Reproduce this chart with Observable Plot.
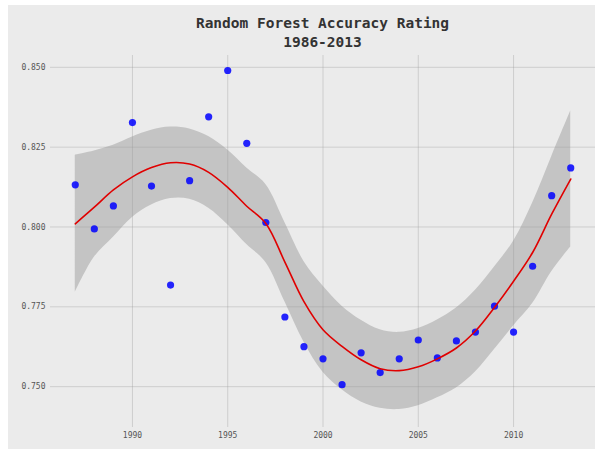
<!DOCTYPE html>
<html>
<head>
<meta charset="utf-8">
<script src="https://cdn.jsdelivr.net/npm/d3@7"></script>
<script src="https://cdn.jsdelivr.net/npm/@observablehq/plot@0.6"></script>
<style>
  body { margin: 0; background: #ffffff; }
  #wrap { position: relative; width: 600px; height: 450px; background: #ffffff; overflow: hidden; }
  #panel { position: absolute; left: 8px; top: 5px; width: 587px; height: 444px; background: #ebebeb; }
  #title { position: absolute; left: 50px; width: 545px; top: 14px; text-align: center;
           font-family: "DejaVu Sans Mono", monospace; font-weight: bold; font-size: 14.5px;
           line-height: 19px; color: #333333; }
  #chart { position: absolute; left: 0; top: 50px; }
</style>
</head>
<body>
<div id="wrap">
  <div id="panel"></div>
  <div id="title">Random Forest Accuracy Rating<br>1986-2013</div>
  <div id="chart"></div>
</div>
<script>
const years = [1987, 1988, 1989, 1990, 1991, 1992, 1993, 1994, 1995, 1996, 1997, 1998, 1999, 2000,
               2001, 2002, 2003, 2004, 2005, 2006, 2007, 2008, 2009, 2010, 2011, 2012, 2013];
const accuracy = [0.8132, 0.7994, 0.8066, 0.8327, 0.8128, 0.7818, 0.8145, 0.8345, 0.8490, 0.8262,
                  0.8014, 0.7718, 0.7625, 0.7587, 0.7506, 0.7606, 0.7544, 0.7587, 0.7646, 0.7590,
                  0.7643, 0.7671, 0.7752, 0.7671, 0.7877, 0.8098, 0.8185];
const fitLine = [0.8010, 0.8062, 0.8116, 0.8157, 0.8186, 0.8201, 0.8197, 0.8171, 0.8124, 0.8065,
                 0.8011, 0.7890, 0.7766, 0.7678, 0.7626, 0.7584, 0.7556, 0.7550, 0.7562, 0.7587,
                 0.7621, 0.7674, 0.7748, 0.7830, 0.7920, 0.8040, 0.8150];
const bandHigh = [0.8225, 0.8238, 0.8256, 0.8282, 0.8303, 0.8313, 0.8307, 0.8283, 0.8241, 0.8185,
                  0.8133, 0.8014, 0.7892, 0.7815, 0.7752, 0.7708, 0.7678, 0.7670, 0.7682, 0.7709,
                  0.7746, 0.7802, 0.7875, 0.7955, 0.8075, 0.8220, 0.8363];
const bandLow = [0.7795, 0.7905, 0.7968, 0.8030, 0.8069, 0.8089, 0.8087, 0.8059, 0.8007, 0.7945,
                 0.7889, 0.7766, 0.7640, 0.7545, 0.7490, 0.7452, 0.7432, 0.7428, 0.7440, 0.7465,
                 0.7496, 0.7546, 0.7616, 0.7690, 0.7760, 0.7860, 0.7937];
const xTicks = [1990, 1995, 2000, 2005, 2010];
const yTicks = [0.750, 0.775, 0.800, 0.825, 0.850];

const rows = years.map((year, i) => ({
  year, acc: accuracy[i], fit: fitLine[i], lo: bandLow[i], hi: bandHigh[i]
}));

const chart = Plot.plot({
  width: 600,
  height: 400,
  marginTop: 5,
  marginBottom: 23,
  marginLeft: 50,
  marginRight: 5,
  style: { background: "transparent", fontFamily: "'DejaVu Sans Mono', monospace", fontSize: "8px", color: "#555555" },
  x: { domain: [1985.7, 2014.3] },
  y: { domain: [0.7372, 0.8537] },
  marks: [
    Plot.areaY(rows, { x: "year", y1: "lo", y2: "hi", fill: "#c4c4c4", curve: "catmull-rom" }),
    Plot.gridX(xTicks, { stroke: "#999999", strokeOpacity: 0.35, strokeWidth: 1 }),
    Plot.gridY(yTicks, { stroke: "#999999", strokeOpacity: 0.35, strokeWidth: 1 }),
    Plot.dot(rows, { x: "year", y: "acc", r: 3.6, fill: "#0000ff", fillOpacity: 0.85, stroke: null }),
    Plot.line(rows, { x: "year", y: "fit", stroke: "#e00000", strokeWidth: 1.6, curve: "catmull-rom" }),
    Plot.axisX(xTicks, { tickSize: 0, tickPadding: 5, label: null, tickFormat: "d" }),
    Plot.axisY(yTicks, { tickSize: 0, tickPadding: 5, label: null, tickFormat: ".3f" })
  ]
});
document.getElementById("chart").appendChild(chart);
</script>
</body>
</html>
